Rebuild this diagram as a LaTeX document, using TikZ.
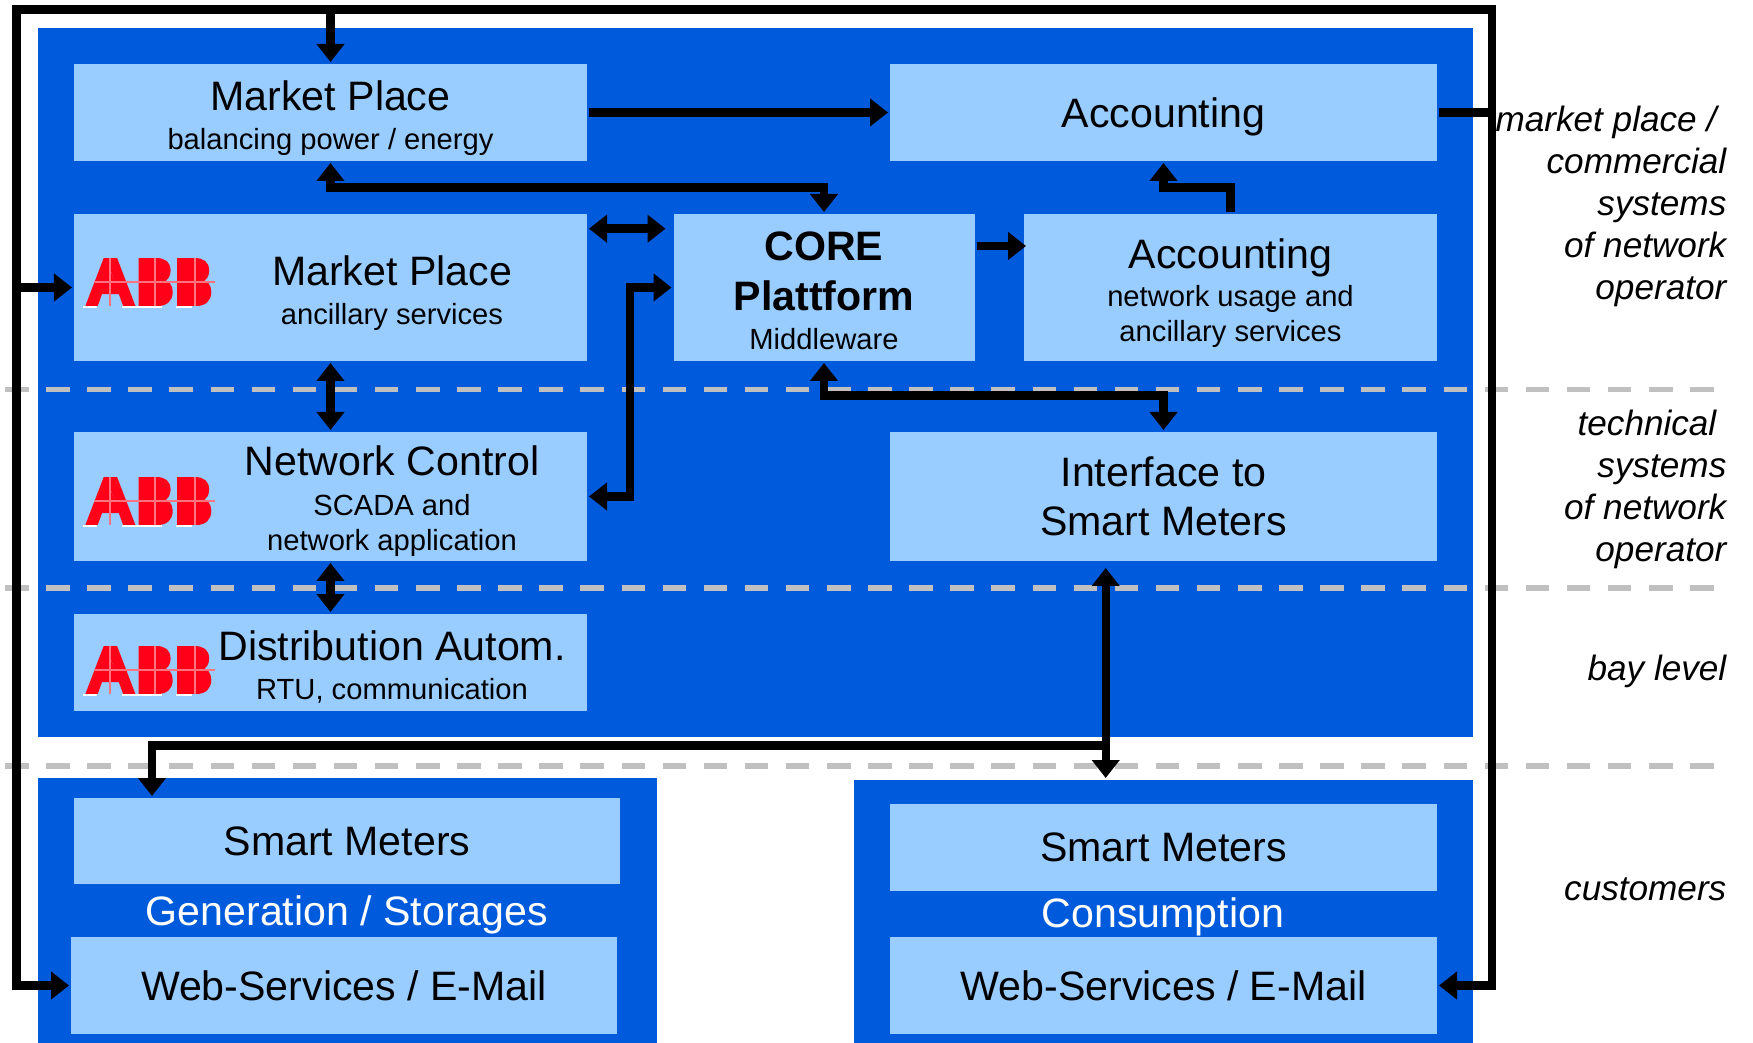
\documentclass[tikz,border=0pt]{standalone}
\usepackage{fontspec}
\setmainfont{Liberation Sans}
\newfontfamily\logofont[FakeBold=3]{Liberation Sans Bold}
\usetikzlibrary{arrows.meta}
\newcommand{\bigfont}{\fontsize{11.7}{13.9}\selectfont}
\newcommand{\smallfont}{\fontsize{8.3}{10}\selectfont}
\newcommand{\sidefont}{\fontsize{10}{11.95}\selectfont\itshape}
\definecolor{deepblue}{HTML}{005ADC}
\definecolor{paleblue}{HTML}{99CCFF}
\definecolor{sepgray}{HTML}{C0C0C0}
\definecolor{abbred}{HTML}{FF0018}
\tikzset{
	layer/.style={fill=deepblue,inner sep=0pt,outer sep=0pt},
	box/.style={fill=paleblue,inner sep=0pt,outer sep=0pt,align=center,font=\bigfont},
	caption/.style={align=center,font=\bigfont,inner sep=0pt},
	side/.style={align=right,anchor=north east,font=\sidefont,inner sep=0pt},
	sep/.style={draw=sepgray,line width=1.7pt,dash pattern=on 2.35mm off 1.76mm},
	wire/.style={line width=2.4pt,-{Triangle[length=1.8mm,width=2.7mm]},shorten >=0.2mm,shorten <=0.2mm},
	twoway/.style={line width=2.4pt,{Triangle[length=1.8mm,width=2.7mm]}-{Triangle[length=1.8mm,width=2.7mm]},shorten >=0.2mm,shorten <=0.2mm},
	abblogo/.pic={
		\fill [abbred] (-0.05,-0.17) rectangle (0.15,0.17) (0.35,-0.17) rectangle (0.55,0.17) (-0.5,0.1) -- (-0.3,0.1) -- (-0.4,-0.15) -- cycle;
		\node [inner sep=0pt,text=abbred,font=\fontsize{19}{19}\logofont] (-word) at (0,0) {\scalebox{1.05}[1]{A}\scalebox{0.8}[1]{BB}};
		\draw [white!45!abbred,line width=0.3pt] (-0.39,-0.24) -- (-0.39,0.24) (0.06,-0.24) -- (0.06,0.24) (0.46,-0.24) -- (0.46,0.24) (-0.55,0) -- (0.66,0);
		\draw [white,line width=0.6pt] (-0.66,0.25) -- (-0.52,0.25) (-0.27,0.25) -- (0.13,0.25) (0.27,0.25) -- (0.43,0.25);
	}
}
\begin{document}
\begin{tikzpicture}[x=1cm,y=-1cm]
	\useasboundingbox (0,0) rectangle (17.53,10.43);

	%Blue layers
	\node [layer,minimum width=14.35cm,minimum height=7.09cm] (grid) at (7.555,3.825) {};
	\node [layer,minimum width=6.19cm,minimum height=2.65cm] (custleft) at (3.475,9.105) {};
	\node [layer,minimum width=6.19cm,minimum height=2.63cm] (custright) at (11.635,9.115) {};

	%Commercial and control boxes
	\node [box,minimum width=5.13cm,minimum height=0.97cm] (market) at (3.305,1.125) {};
	\node [box,minimum width=5.47cm,minimum height=0.97cm] (account) at (11.635,1.125) {\raisebox{0pt}[\height][0pt]{Accounting}};
	\node [box,minimum width=5.13cm,minimum height=1.47cm] (ancillary) at (3.305,2.875) {};
	\node [box,minimum width=3.01cm,minimum height=1.47cm] (core) at (8.24,2.875) {};
	\node [box,minimum width=4.13cm,minimum height=1.47cm] (usage) at (12.305,2.875) {};
	\node [box,minimum width=5.13cm,minimum height=1.29cm] (control) at (3.305,4.965) {};
	\node [box,minimum width=5.47cm,minimum height=1.29cm] (iface) at (11.635,4.965) {Interface to\\Smart Meters};
	\node [box,minimum width=5.13cm,minimum height=0.97cm] (autom) at (3.305,6.625) {};

	%Customer boxes
	\node [box,minimum width=5.46cm,minimum height=0.86cm] (meterleft) at (3.47,8.41) {Smart Meters};
	\node [box,minimum width=5.46cm,minimum height=0.97cm] (webleft) at (3.44,9.855) {Web-Services / E-Mail};
	\node [box,minimum width=5.47cm,minimum height=0.87cm] (meterright) at (11.635,8.475) {Smart Meters};
	\node [box,minimum width=5.47cm,minimum height=0.97cm] (webright) at (11.635,9.855) {Web-Services / E-Mail};
	\node [caption,text=white] (genlabel) at (3.47,9.145) {Generation / Storages};
	\node [caption,text=white] (conslabel) at (11.63,9.165) {Consumption};

	%Box texts
	\node [caption] (markettext) at (3.305,1.18) {Market Place\\[-3pt]\smallfont balancing power / energy};
	\node [caption] (coretext) at (8.24,2.905) {\bfseries CORE\\[0.5pt]\bfseries Plattform\\[-3pt]\smallfont Middleware};
	\node [caption] (usagetext) at (12.305,2.93) {Accounting\\[-3pt]\smallfont network usage and\\[-3.9pt]\smallfont ancillary services};
	\node [caption] (ancillarytext) at (3.92,2.93) {Market Place\\[-3pt]\smallfont ancillary services};
	\node [caption] (controltext) at (3.92,5.01) {Network Control\\[-2.5pt]\smallfont SCADA and\\[-3.9pt]\smallfont network application};
	\node [caption] (automtext) at (3.92,6.67) {Distribution Autom.\\[-3pt]\smallfont RTU, communication};

	%Logos
	\pic (logoa) at (1.49,2.82) {abblogo};
	\pic (logob) at (1.49,5.01) {abblogo};
	\pic (logoc) at (1.49,6.7) {abblogo};

	%Level separators
	\draw [sep] (0.05,3.895) -- (17.16,3.895);
	\draw [sep] (0.05,5.88) -- (17.16,5.88);
	\draw [sep] (0.05,7.657) -- (17.16,7.657);

	%Outer frame
	\coordinate (frameleft) at (0.165,0.095);
	\coordinate (frameright) at (14.92,0.095);
	\draw [wire] (account.east) -| (frameright) -- (frameleft) |- (webleft.west);
	\draw [wire] (frameright) |- (webright.east);
	\draw [wire] (market.north |- frameleft) -- (market.north);
	\draw [wire] (frameleft |- ancillary.west) -- (ancillary.west);

	%Links between the boxes
	\draw [wire] (market.east) -- (account.west);
	\draw [twoway] (market.south) -- ++(0,0.265) -| (core.north);
	\draw [twoway,shorten >=0.8mm] ([yshift=-1.47mm]ancillary.north east) -- ([yshift=-1.47mm]core.north west);
	\draw [twoway] (control.east) -- ++(0.43,0) |- (core.west);
	\draw [wire,shorten >=-0.2mm] ([yshift=-3.2mm]core.north east) -- ([yshift=-3.2mm]usage.north west);
	\draw [wire] (usage.north) -- ++(0,-0.265) -| (account.south);
	\draw [twoway] (core.south) -- ++(0,0.345) -| (iface.north);
	\draw [twoway] (ancillary.south) -- (control.north);
	\draw [twoway] (control.south) -- (autom.north);

	%Link to the customers
	\coordinate (tap) at (11.057,7.457);
	\draw [twoway,shorten <=0.7mm] ([xshift=-5.78mm]iface.south) -- ([xshift=-5.78mm]custright.north);
	\draw [wire] (tap) -| ([xshift=-19.5mm]meterleft.north);

	%Level names
	\node [side] (levelmarket) at (17.27,1.055) {market place /\hspace*{1mm}\\commercial\\systems\\of network\\operator};
	\node [side] (leveltech) at (17.27,4.09) {technical\hspace*{1mm}\\systems\\of network\\operator};
	\node [side] (levelbay) at (17.27,6.545) {bay level};
	\node [side] (levelcust) at (17.27,8.775) {customers};
\end{tikzpicture}
\end{document}
